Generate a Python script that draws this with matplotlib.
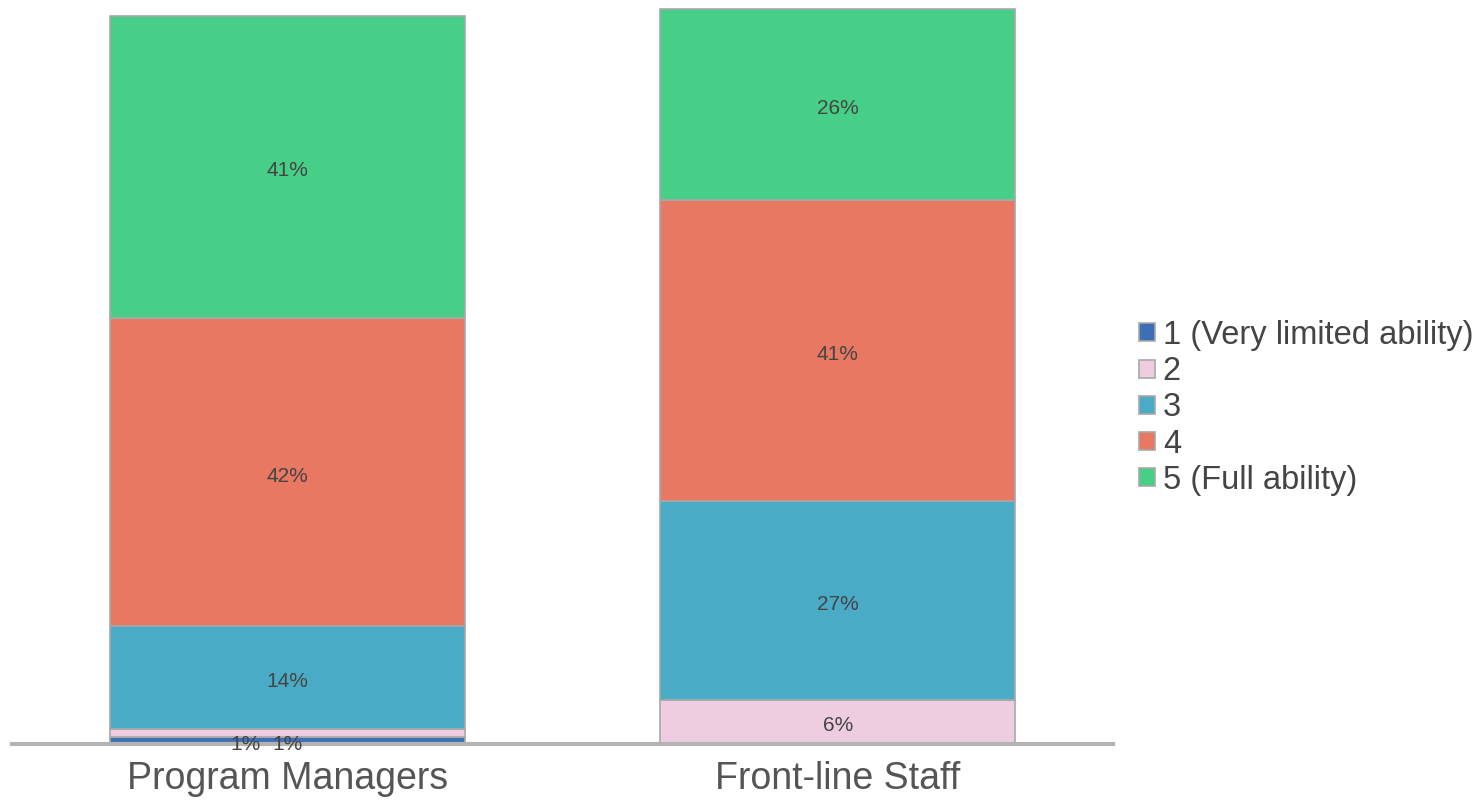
import matplotlib.pyplot as plt

plt.rcParams['font.family'] = ['Liberation Sans', 'DejaVu Sans']

groups = ['Program Managers', 'Front-line Staff']
levels = ['1 (Very limited ability)', '2', '3', '4', '5 (Full ability)']
shares = {
    '1 (Very limited ability)': [1, 0],
    '2': [1, 6],
    '3': [14, 27],
    '4': [42, 41],
    '5 (Full ability)': [41, 26],
}
colors = ['#3e6fb4', '#efcde0', '#4aabc6', '#e87862', '#47cf87']

fig = plt.figure(figsize=(14.79, 8), dpi=100)
ax = fig.add_axes([12 / 1479, 56 / 800, 1101 / 1479, 744 / 800])

x = list(range(len(groups)))
bottoms = [0] * len(groups)
handles = []
for lvl, col in zip(levels, colors):
    vals = shares[lvl]
    bars = ax.bar(x, vals, width=0.644, bottom=bottoms, color=col,
                  edgecolor='#a8a8a8', linewidth=1.2, label=lvl, zorder=2)
    handles.append(bars)
    for i, v in enumerate(vals):
        if v == 0:
            continue
        cy = bottoms[i] + v / 2 - 0.55
        cx = x[i]
        if v < 3:
            # tiny slices: labels sit side by side on the baseline
            cy = -0.1
            cx = x[i] - 0.075 if lvl.startswith('1') else x[i]
        ax.text(cx, cy, f'{v}%', ha='center', va='center', clip_on=False,
                fontsize=15, color='#444444', zorder=5)
    bottoms = [b + v for b, v in zip(bottoms, vals)]

ax.set_xlim(-0.5, 1.5)
ax.set_ylim(0, 101.2)
ax.axhline(0, color='#b3b3b3', linewidth=3, zorder=4, clip_on=False)
for s in ax.spines.values():
    s.set_visible(False)
ax.set_yticks([])
ax.set_xticks(x)
ax.set_xticklabels(groups, fontsize=27, color='#555555')
ax.tick_params(axis='x', length=0, pad=12)

fig.legend(handles=handles, labels=levels, loc='upper left',
           bbox_to_anchor=(1139 / 1479, 1 - 320 / 800), frameon=False,
           fontsize=23.5, labelcolor='#444444', handlelength=0.48,
           handleheight=0.48, handletextpad=0.25, labelspacing=0.16,
           borderaxespad=0, borderpad=0)

fig.savefig('out.png', dpi=100, facecolor='white')
